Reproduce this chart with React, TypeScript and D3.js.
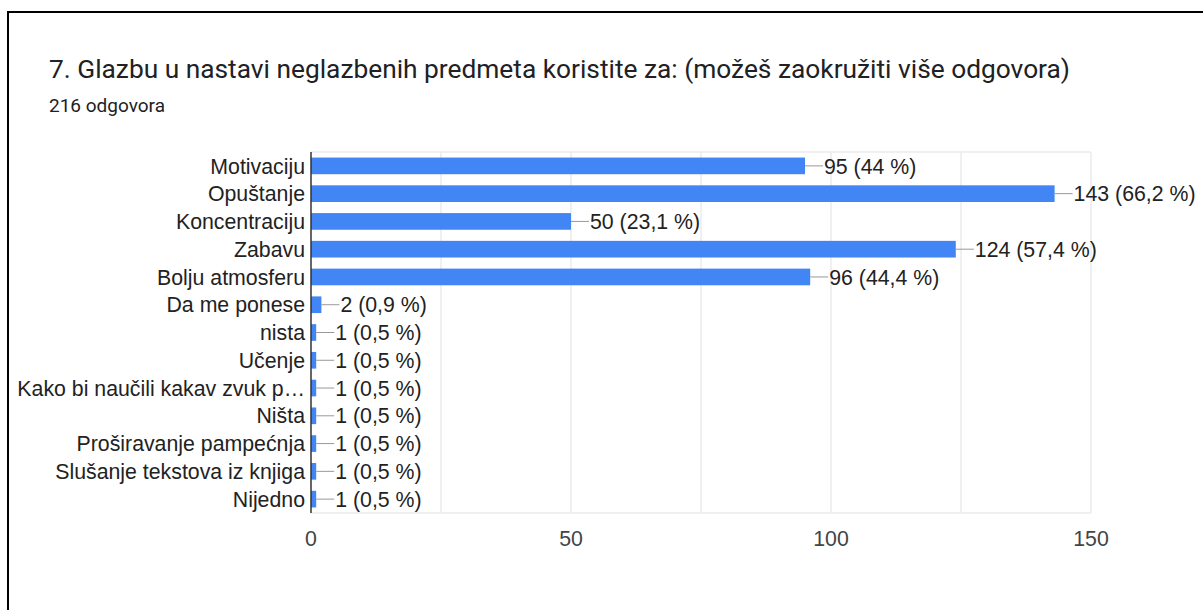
import * as d3 from "d3";
import { useEffect, useRef } from "react";

const title = "7. Glazbu u nastavi neglazbenih predmeta koristite za: (možeš zaokružiti više odgovora)";
const subtitle = "216 odgovora";
const categories = [
  "Motivaciju",
  "Opuštanje",
  "Koncentraciju",
  "Zabavu",
  "Bolju atmosferu",
  "Da me ponese",
  "nista",
  "Učenje",
  "Kako bi naučili kakav zvuk p…",
  "Ništa",
  "Proširavanje pampećnja",
  "Slušanje tekstova iz knjiga",
  "Nijedno",
];
const counts = [95, 143, 50, 124, 96, 2, 1, 1, 1, 1, 1, 1, 1];
const percents = ["44", "66,2", "23,1", "57,4", "44,4", "0,9", "0,5", "0,5", "0,5", "0,5", "0,5", "0,5", "0,5"];
const tickLabels = [0, 50, 100, 150];
const gridValues = [25, 50, 75, 100, 125, 150];

export default function App() {
  const svgRef = useRef<SVGSVGElement>(null);
  const width = 1203;
  const height = 610;

  useEffect(() => {
    const svg = d3.select(svgRef.current);
    svg.selectAll("*").remove();

    const x = d3.scaleLinear([0, 150], [311, 1091]);
    const y = d3.scaleBand(categories, [152, 513]).paddingInner(0.4).paddingOuter(0.2);
    const font = "Arial, 'Liberation Sans', sans-serif";

    // frame
    svg.append("path")
      .attr("d", `M 8 ${height} L 8 12 L ${width} 12`)
      .attr("fill", "none")
      .attr("stroke", "#000")
      .attr("stroke-width", 2);

    svg.append("text")
      .attr("x", 49).attr("y", 77.5)
      .attr("font-family", "Roboto, sans-serif")
      .attr("font-size", 26.3)
      .attr("fill", "#202124")
      .text(title);

    svg.append("text")
      .attr("x", 49).attr("y", 112)
      .attr("font-family", "Roboto, sans-serif")
      .attr("font-size", 19)
      .attr("fill", "#202124")
      .text(subtitle);

    // grid
    svg.selectAll("line.grid")
      .data(gridValues)
      .join("line")
      .attr("class", "grid")
      .attr("x1", d => x(d)).attr("x2", d => x(d))
      .attr("y1", 152).attr("y2", 513)
      .attr("stroke", "#ebebeb")
      .attr("stroke-width", 1.5);

    svg.selectAll("line.hgrid")
      .data([152, 513])
      .join("line")
      .attr("class", "hgrid")
      .attr("x1", x(0)).attr("x2", x(150))
      .attr("y1", d => d).attr("y2", d => d)
      .attr("stroke", "#ebebeb")
      .attr("stroke-width", 1.5);

    // bars
    svg.selectAll("rect.bar")
      .data(counts)
      .join("rect")
      .attr("class", "bar")
      .attr("x", x(0))
      .attr("y", (d, i) => y(categories[i])!)
      .attr("width", d => x(d) - x(0))
      .attr("height", y.bandwidth())
      .attr("fill", "#4285f4");

    // leader lines + value labels
    const cy = (i: number) => y(categories[i])! + y.bandwidth() / 2;
    svg.selectAll("line.lead")
      .data(counts)
      .join("line")
      .attr("class", "lead")
      .attr("x1", d => x(d)).attr("x2", d => x(d) + 18)
      .attr("y1", (d, i) => cy(i)).attr("y2", (d, i) => cy(i))
      .attr("stroke", "#999")
      .attr("stroke-width", 1);

    svg.selectAll("text.val")
      .data(counts)
      .join("text")
      .attr("class", "val")
      .attr("x", d => x(d) + 19)
      .attr("y", (d, i) => cy(i))
      .attr("dy", "0.36em")
      .attr("font-family", font)
      .attr("font-size", 21.3)
      .attr("fill", "#222")
      .text((d, i) => `${d} (${percents[i]} %)`);

    // category labels
    svg.selectAll("text.cat")
      .data(categories)
      .join("text")
      .attr("class", "cat")
      .attr("x", 305)
      .attr("y", d => y(d)! + y.bandwidth() / 2)
      .attr("dy", "0.36em")
      .attr("text-anchor", "end")
      .attr("font-family", font)
      .attr("font-size", 21.3)
      .attr("fill", "#222")
      .text(d => d);

    // zero axis
    svg.append("line")
      .attr("x1", x(0)).attr("x2", x(0))
      .attr("y1", 152).attr("y2", 513)
      .attr("stroke", "#333")
      .attr("stroke-width", 1.5);

    // tick labels
    svg.selectAll("text.tick")
      .data(tickLabels)
      .join("text")
      .attr("class", "tick")
      .attr("x", d => x(d))
      .attr("y", 546)
      .attr("text-anchor", "middle")
      .attr("font-family", font)
      .attr("font-size", 21.3)
      .attr("fill", "#444")
      .text(d => d);
  }, []);

  return (
    <svg
      ref={svgRef}
      width={width}
      height={height}
      style={{ position: "absolute", left: 0, top: 0, background: "#fff" }}
      xmlns="http://www.w3.org/2000/svg"
    />
  );
}
